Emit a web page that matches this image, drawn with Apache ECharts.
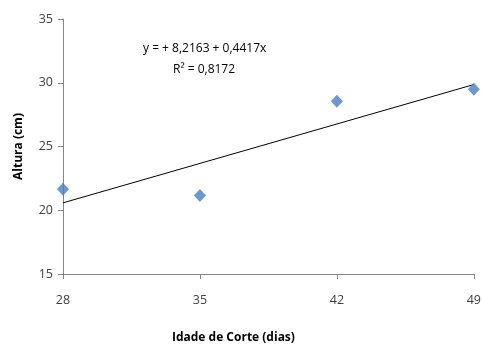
<!DOCTYPE html>
<html>
<head>
<meta charset="utf-8">
<script src="https://cdn.jsdelivr.net/npm/echarts@6/dist/echarts.min.js"></script>
<style>html,body{margin:0;padding:0;background:#fff}#c{width:484px;height:349px}</style>
</head>
<body>
<div id="c"></div>
<script>
var xValues = [28, 35, 42, 49];
var yValues = [21.65, 21.15, 28.55, 29.5];
var trendX = [28, 49];
var trendY = [20.58, 29.86];
var xTicks = [28, 35, 42, 49];
var yTicks = [15, 20, 25, 30, 35];
var eqText = 'y = + 8,2163 + 0,4417x';
var r2Text = 'R² = 0,8172';

var chart = echarts.init(document.getElementById('c'));
var font = 'Open Sans';
chart.setOption({
  animation: false,
  grid: {left: 63, right: 7, top: 19, bottom: 74},
  xAxis: {
    type: 'value', min: xTicks[0], max: xTicks[xTicks.length - 1], interval: 7,
    name: 'Idade de Corte (dias)', nameLocation: 'middle', nameGap: 58,
    nameTextStyle: {fontFamily: font, fontWeight: 'bold', fontSize: 12, color: '#000', padding: [0, 70, 0, 0]},
    axisLine: {lineStyle: {color: '#868686'}},
    axisTick: {show: true, length: 5, lineStyle: {color: '#868686'}},
    axisLabel: {fontFamily: font, fontSize: 12.5, color: '#404040', margin: 20},
    splitLine: {show: false}
  },
  yAxis: {
    type: 'value', min: yTicks[0], max: yTicks[yTicks.length - 1], interval: 5,
    name: 'Altura (cm)', nameLocation: 'middle', nameGap: 38, nameRotate: 90,
    nameTextStyle: {fontFamily: font, fontWeight: 'bold', fontSize: 12, color: '#000'},
    axisLine: {show: true, lineStyle: {color: '#868686'}},
    axisTick: {show: true, length: 5, lineStyle: {color: '#868686'}},
    axisLabel: {fontFamily: font, fontSize: 12.5, color: '#404040', margin: 10},
    splitLine: {show: false}
  },
  graphic: [
    {type: 'text', left: 143, top: 43, style: {text: eqText, font: '12px "Open Sans"', fill: '#000'}},
    {type: 'text', left: 173, top: 64, style: {text: r2Text, font: '12px "Open Sans"', fill: '#000'}}
  ],
  series: [
    {
      type: 'line', data: trendX.map(function (x, i) { return [x, trendY[i]]; }),
      showSymbol: false, symbol: 'none', lineStyle: {color: '#000', width: 1}, silent: true, z: 1
    },
    {
      type: 'scatter', data: xValues.map(function (x, i) { return [x, yValues[i]]; }),
      symbol: 'diamond', symbolSize: [12, 13], itemStyle: {color: '#4a7ebb'}, z: 2
    }
  ]
});
</script>
</body>
</html>
